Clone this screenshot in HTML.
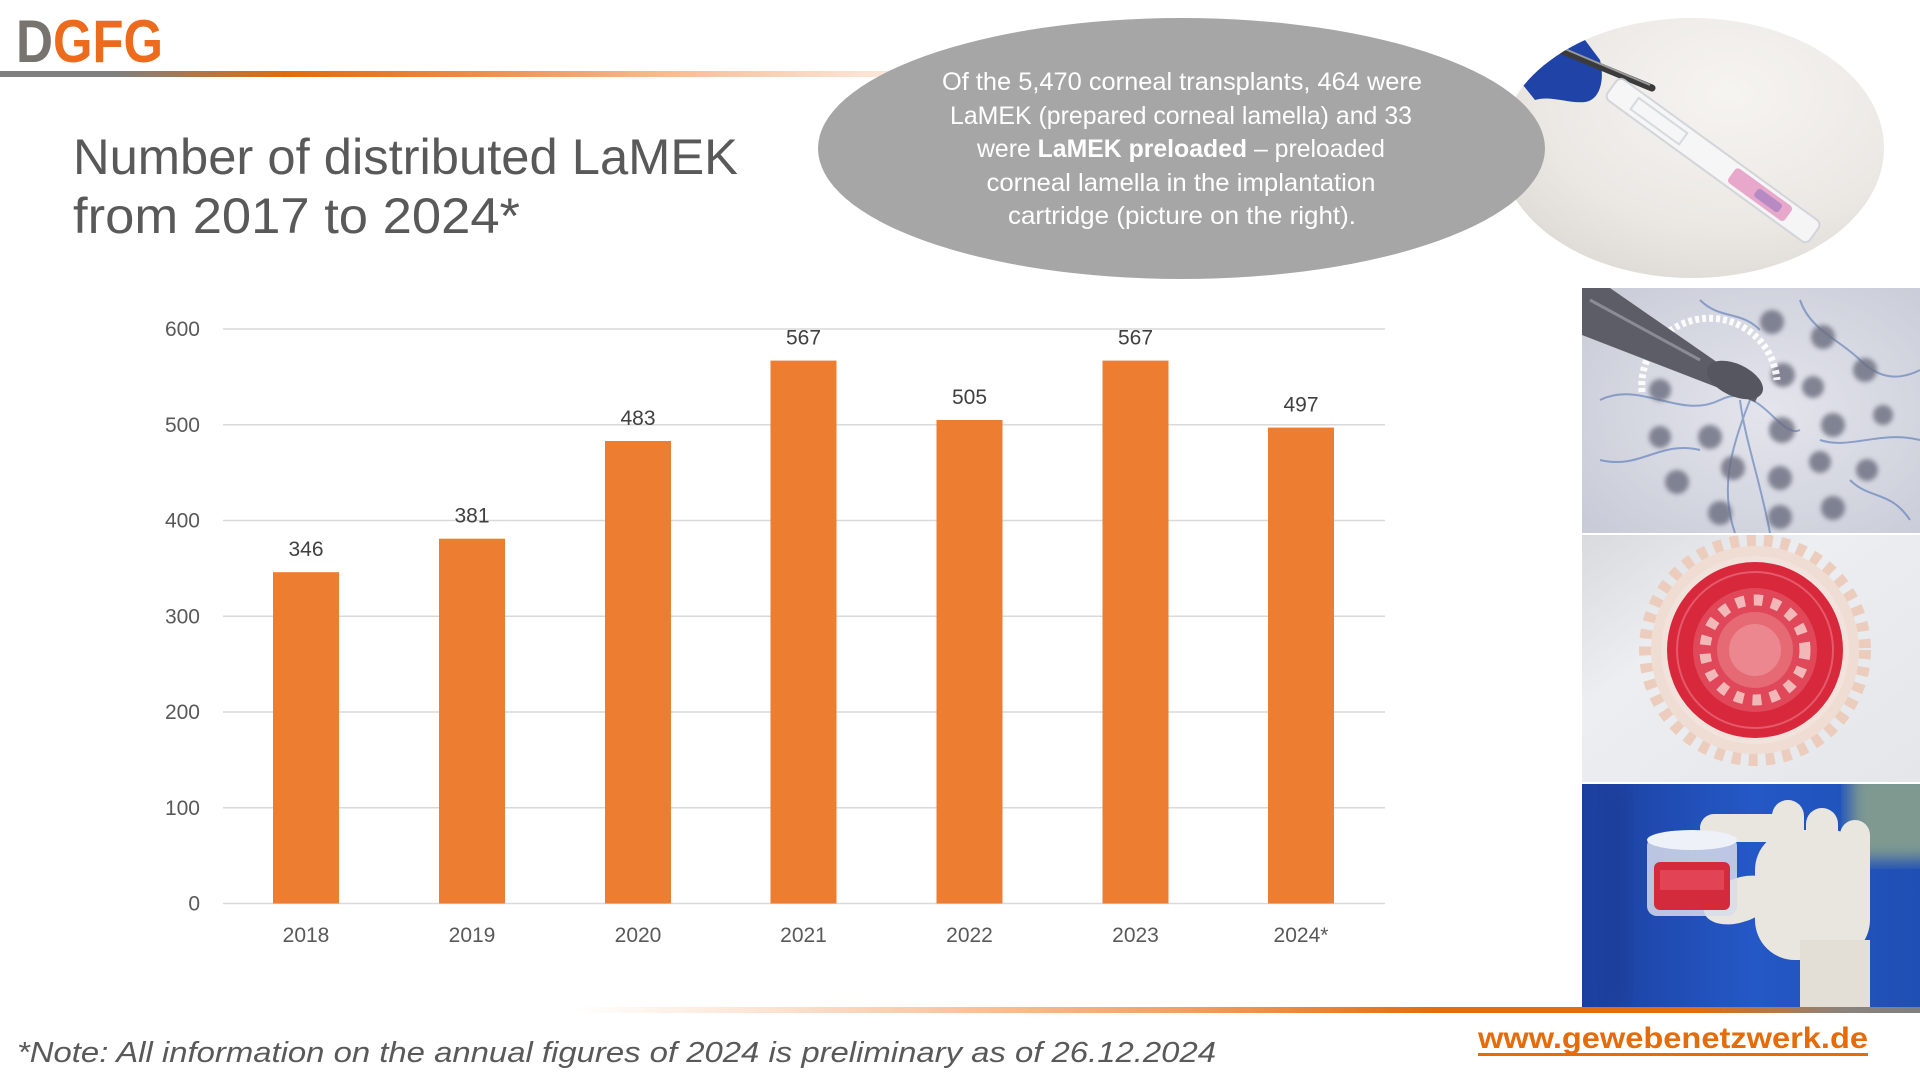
<!DOCTYPE html>
<html>
<head>
<meta charset="utf-8">
<style>
html,body{margin:0;padding:0;background:#fff;}
svg{display:block;}
text{font-family:"Liberation Sans",sans-serif;}
</style>
</head>
<body>
<svg width="1920" height="1080" viewBox="0 0 1920 1080" xmlns="http://www.w3.org/2000/svg">
<defs>
  <linearGradient id="hdr" gradientUnits="userSpaceOnUse" x1="0" y1="0" x2="900" y2="0">
    <stop offset="0" stop-color="#7f7f7f"/>
    <stop offset="0.13" stop-color="#7f7f7f"/>
    <stop offset="0.32" stop-color="#e46c0a"/>
    <stop offset="0.5" stop-color="#ec8640"/>
    <stop offset="0.75" stop-color="#f5be98"/>
    <stop offset="1" stop-color="#fdeade"/>
  </linearGradient>
  <linearGradient id="ftr" gradientUnits="userSpaceOnUse" x1="575" y1="0" x2="1920" y2="0">
    <stop offset="0" stop-color="#ffffff"/>
    <stop offset="0.15" stop-color="#fbe2d0"/>
    <stop offset="0.45" stop-color="#f1a065"/>
    <stop offset="0.64" stop-color="#e46c0a"/>
    <stop offset="0.83" stop-color="#e46c0a"/>
    <stop offset="0.94" stop-color="#8c827b"/>
    <stop offset="1" stop-color="#7f7f7f"/>
  </linearGradient>
  <radialGradient id="circbg" cx="0.6" cy="0.3" r="0.8">
    <stop offset="0" stop-color="#f6f4f1"/>
    <stop offset="0.6" stop-color="#ebe8e4"/>
    <stop offset="1" stop-color="#d9d5cf"/>
  </radialGradient>
  <clipPath id="circclip"><ellipse cx="1692" cy="148" rx="192" ry="130"/></clipPath>
  <clipPath id="p1"><rect x="1582" y="288" width="338" height="245"/></clipPath>
  <clipPath id="p2"><rect x="1582" y="535" width="338" height="247"/></clipPath>
  <clipPath id="p3"><rect x="1582" y="784" width="338" height="223"/></clipPath>
  <radialGradient id="p1bg" cx="0.55" cy="0.5" r="0.7">
    <stop offset="0" stop-color="#e4e5ec"/>
    <stop offset="1" stop-color="#c9ccd8"/>
  </radialGradient>
  <linearGradient id="p2bg" x1="0" y1="0" x2="1" y2="1">
    <stop offset="0" stop-color="#d8dade"/>
    <stop offset="0.35" stop-color="#eceef1"/>
    <stop offset="1" stop-color="#e4e6ea"/>
  </linearGradient>
  <linearGradient id="p3bg" x1="0" y1="0" x2="1" y2="0">
    <stop offset="0" stop-color="#1c3f9e"/>
    <stop offset="0.5" stop-color="#2458c6"/>
    <stop offset="1" stop-color="#1f4fb4"/>
  </linearGradient>
  <filter id="blur2"><feGaussianBlur stdDeviation="2.5"/></filter>
  <filter id="blur6"><feGaussianBlur stdDeviation="8"/></filter>
</defs>

<!-- Logo -->
<text x="16" y="62" font-size="60" font-weight="bold" fill="#77736f" textLength="37" lengthAdjust="spacingAndGlyphs">D</text>
<text x="53" y="62" font-size="60" font-weight="bold" fill="#ec6b1c" textLength="110" lengthAdjust="spacingAndGlyphs">GFG</text>

<!-- header line -->
<rect x="0" y="71" width="900" height="6" fill="url(#hdr)"/>

<!-- Title -->
<text x="73" y="174" font-size="50" fill="#595959" textLength="665" lengthAdjust="spacingAndGlyphs">Number of distributed LaMEK</text>
<text x="73" y="233" font-size="50" fill="#595959" textLength="447" lengthAdjust="spacingAndGlyphs">from 2017 to 2024*</text>

<!-- circle photo -->
<g clip-path="url(#circclip)">
  <rect x="1490" y="10" width="400" height="280" fill="url(#circbg)"/>
  <path d="M1515,75 C1530,55 1560,40 1585,40 L1600,60 C1605,80 1600,100 1585,102 C1570,104 1550,95 1535,100 Z" fill="#1f43a6"/>
  <line x1="1560" y1="50" x2="1652" y2="88" stroke="#3b3b3b" stroke-width="7" stroke-linecap="round"/>
  <line x1="1565" y1="49" x2="1650" y2="85" stroke="#9a9a9a" stroke-width="2"/>
  <g transform="rotate(36 1615 88)">
    <rect x="1612" y="76" width="250" height="26" rx="6" fill="#f7f7f8" stroke="#cfd2d8" stroke-width="2" opacity="0.9"/>
    <rect x="1640" y="82" width="60" height="14" fill="none" stroke="#d6d9de" stroke-width="2"/>
    <rect x="1760" y="80" width="70" height="18" rx="4" fill="#e7a8cc"/>
    <rect x="1790" y="84" width="30" height="10" rx="3" fill="#b88ac4"/>
  </g>
</g>

<!-- gray ellipse -->
<ellipse cx="1181.5" cy="148.5" rx="363.5" ry="130.5" fill="#a6a6a6"/>
<g fill="#ffffff" font-size="25" text-anchor="middle">
  <text x="1182" y="90" textLength="480" lengthAdjust="spacingAndGlyphs">Of the 5,470 corneal transplants, 464 were</text>
  <text x="1181" y="124" textLength="462" lengthAdjust="spacingAndGlyphs">LaMEK (prepared corneal lamella) and 33</text>
  <text x="1181" y="157" textLength="408" lengthAdjust="spacingAndGlyphs">were <tspan font-weight="bold">LaMEK preloaded</tspan> – preloaded</text>
  <text x="1181" y="191" textLength="389" lengthAdjust="spacingAndGlyphs">corneal lamella in the implantation</text>
  <text x="1182" y="224" textLength="348" lengthAdjust="spacingAndGlyphs">cartridge (picture on the right).</text>
</g>

<!-- Chart gridlines -->
<g stroke="#d9d9d9" stroke-width="1.5">
  <line x1="223" y1="903.5" x2="1385" y2="903.5"/>
  <line x1="223" y1="807.75" x2="1385" y2="807.75"/>
  <line x1="223" y1="712" x2="1385" y2="712"/>
  <line x1="223" y1="616.25" x2="1385" y2="616.25"/>
  <line x1="223" y1="520.5" x2="1385" y2="520.5"/>
  <line x1="223" y1="424.75" x2="1385" y2="424.75"/>
  <line x1="223" y1="329" x2="1385" y2="329"/>
</g>
<g fill="#595959" font-size="21" text-anchor="end">
  <text x="200" y="910.5">0</text>
  <text x="200" y="814.75">100</text>
  <text x="200" y="719">200</text>
  <text x="200" y="623.25">300</text>
  <text x="200" y="527.5">400</text>
  <text x="200" y="431.75">500</text>
  <text x="200" y="336">600</text>
</g>

<!-- bars -->
<g fill="#ed7d31">
  <rect x="273" y="572.2" width="66" height="331.3"/>
  <rect x="439" y="538.7" width="66" height="364.8"/>
  <rect x="605" y="441" width="66" height="462.5"/>
  <rect x="770.5" y="360.6" width="66" height="542.9"/>
  <rect x="936.5" y="420" width="66" height="483.5"/>
  <rect x="1102.5" y="360.6" width="66" height="542.9"/>
  <rect x="1268" y="427.6" width="66" height="475.9"/>
</g>
<g fill="#404040" font-size="21" text-anchor="middle">
  <text x="306" y="556">346</text>
  <text x="472" y="522.5">381</text>
  <text x="638" y="425">483</text>
  <text x="803.5" y="344.5">567</text>
  <text x="969.5" y="404">505</text>
  <text x="1135.5" y="344.5">567</text>
  <text x="1301" y="411.5">497</text>
</g>
<g fill="#595959" font-size="21" text-anchor="middle">
  <text x="306" y="942">2018</text>
  <text x="472" y="942">2019</text>
  <text x="638" y="942">2020</text>
  <text x="803.5" y="942">2021</text>
  <text x="969.5" y="942">2022</text>
  <text x="1135.5" y="942">2023</text>
  <text x="1301" y="942">2024*</text>
</g>

<!-- Photo 1 -->
<g clip-path="url(#p1)">
  <rect x="1582" y="288" width="338" height="245" fill="url(#p1bg)"/>
  <g stroke="#4a6db3" stroke-width="2" fill="none" opacity="0.55">
    <path d="M1600,400 C1640,380 1680,420 1720,400 S1780,440 1800,430"/>
    <path d="M1740,400 C1745,440 1760,480 1770,533"/>
    <path d="M1750,400 C1730,450 1720,490 1735,533"/>
    <path d="M1600,460 C1640,470 1660,440 1700,450"/>
    <path d="M1800,300 C1810,330 1840,340 1860,360 S1900,380 1920,370"/>
    <path d="M1820,440 C1850,450 1880,430 1920,440"/>
    <path d="M1700,300 C1720,320 1740,310 1760,330"/>
    <path d="M1850,480 C1870,500 1890,490 1910,520"/>
  </g>
  <g fill="#6b6d7f" opacity="0.8" filter="url(#blur2)">
    <circle cx="1772" cy="322" r="12"/><circle cx="1823" cy="337" r="12"/>
    <circle cx="1865" cy="370" r="12"/><circle cx="1783" cy="375" r="12"/>
    <circle cx="1813" cy="387" r="11"/><circle cx="1833" cy="425" r="12"/>
    <circle cx="1782" cy="430" r="13"/><circle cx="1710" cy="437" r="12"/>
    <circle cx="1660" cy="437" r="11"/><circle cx="1883" cy="415" r="10"/>
    <circle cx="1733" cy="468" r="12"/><circle cx="1677" cy="482" r="12"/>
    <circle cx="1780" cy="478" r="12"/><circle cx="1820" cy="462" r="11"/>
    <circle cx="1867" cy="470" r="11"/><circle cx="1720" cy="513" r="12"/>
    <circle cx="1780" cy="517" r="12"/><circle cx="1833" cy="508" r="12"/>
    <circle cx="1660" cy="390" r="11"/>
  </g>
  <path d="M1642,392 A62,62 0 1 1 1777,380" fill="none" stroke="#ffffff" stroke-width="7" stroke-dasharray="4 3" opacity="0.9"/>
  <path d="M1582,288 L1610,288 L1760,392 L1755,402 L1582,335 Z" fill="#5c5d66"/>
  <ellipse cx="1735" cy="380" rx="30" ry="16" transform="rotate(25 1735 380)" fill="#55565f"/>
  <line x1="1590" y1="300" x2="1700" y2="360" stroke="#8a8b93" stroke-width="3"/>
</g>

<!-- Photo 2 -->
<g clip-path="url(#p2)">
  <rect x="1582" y="535" width="338" height="247" fill="url(#p2bg)"/>
  <circle cx="1755" cy="650" r="110" fill="none" stroke="#eccdbd" stroke-width="12" stroke-dasharray="9 8"/>
  <circle cx="1755" cy="650" r="104" fill="#efdcd3"/>
  <circle cx="1755" cy="650" r="94" fill="#f1e2dc"/>
  <circle cx="1755" cy="650" r="88" fill="#d8283b"/>
  <circle cx="1755" cy="650" r="78" fill="none" stroke="#e45a6a" stroke-width="2"/>
  <circle cx="1755" cy="650" r="62" fill="#e0485a"/>
  <circle cx="1755" cy="650" r="50" fill="none" stroke="#f2b8b8" stroke-width="11" stroke-dasharray="9 9"/>
  <circle cx="1755" cy="650" r="38" fill="#e56a74"/>
  <circle cx="1755" cy="650" r="26" fill="#ec8790"/>
</g>

<!-- Photo 3 -->
<g clip-path="url(#p3)">
  <rect x="1582" y="784" width="338" height="223" fill="url(#p3bg)"/>
  <rect x="1850" y="770" width="90" height="90" fill="#7f9990" filter="url(#blur6)"/>
  <rect x="1600" y="784" width="30" height="223" fill="#1a3a92" opacity="0.5" filter="url(#blur6)"/>
  <!-- glove -->
  <g fill="#e9e6df">
    <rect x="1755" y="830" width="115" height="130" rx="40"/>
    <rect x="1772" y="800" width="32" height="80" rx="16"/>
    <rect x="1806" y="808" width="32" height="75" rx="16"/>
    <rect x="1840" y="820" width="30" height="70" rx="15"/>
    <rect x="1700" y="814" width="90" height="28" rx="14"/>
    <ellipse cx="1740" cy="900" rx="38" ry="22" transform="rotate(-20 1740 900)"/>
    <rect x="1800" y="940" width="70" height="67" fill="#e3dfd7"/>
  </g>
  <!-- jar -->
  <rect x="1647" y="836" width="90" height="80" rx="10" fill="#d6dcea" opacity="0.85"/>
  <ellipse cx="1692" cy="840" rx="45" ry="10" fill="#eef1f7"/>
  <rect x="1654" y="862" width="76" height="48" rx="6" fill="#d42b3c"/>
  <rect x="1660" y="870" width="64" height="20" fill="#e85060" opacity="0.7"/>
</g>

<!-- footer line -->
<rect x="575" y="1007" width="1345" height="6" fill="url(#ftr)"/>

<!-- note -->
<text x="17" y="1062" font-size="29" font-style="italic" fill="#595959" textLength="1199" lengthAdjust="spacingAndGlyphs">*Note: All information on the annual figures of 2024 is preliminary as of 26.12.2024</text>

<!-- url -->
<text x="1478" y="1048" font-size="30" font-weight="bold" fill="#e46c0a" textLength="390" lengthAdjust="spacingAndGlyphs">www.gewebenetzwerk.de</text>
<rect x="1478" y="1053" width="390" height="3" fill="#e46c0a"/>
</svg>
</body>
</html>
